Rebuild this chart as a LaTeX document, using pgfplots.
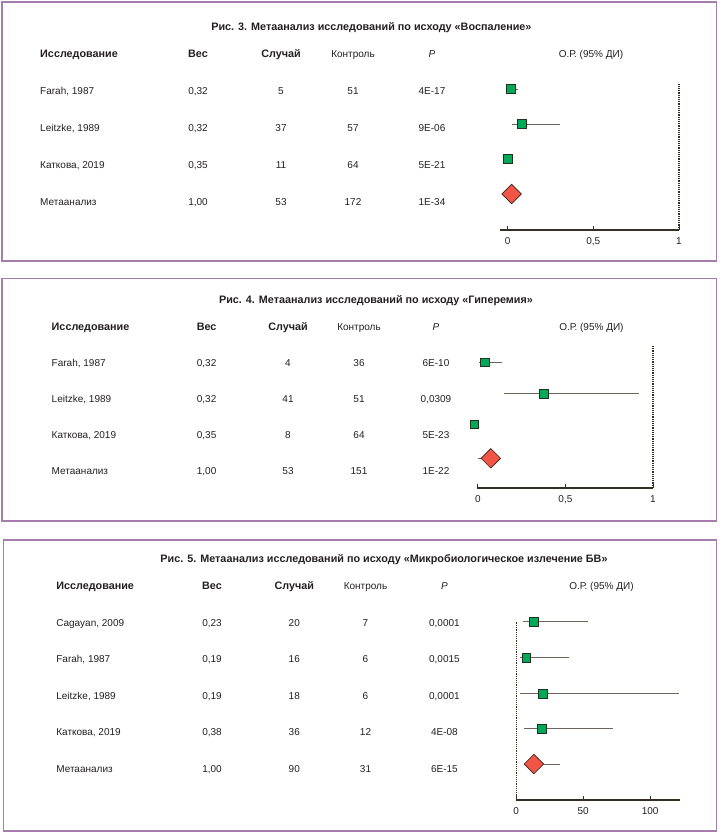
\documentclass[border=0pt]{standalone}
\usepackage{fontspec}
\setmainfont{Liberation Sans}
\usepackage{pgfplots}
\pgfplotsset{compat=1.18}
\definecolor{frame}{RGB}{165,125,172}
\definecolor{txt}{RGB}{35,31,32}
\definecolor{axc}{RGB}{55,45,35}
\definecolor{cic}{RGB}{110,102,92}
\definecolor{sqg}{RGB}{0,168,90}
\definecolor{sqd}{RGB}{30,50,30}
\definecolor{dia}{RGB}{240,85,70}
\definecolor{diad}{RGB}{60,30,25}
\newcommand\fs{\fontsize{10}{12}\selectfont}
\newcommand\fb{\fontsize{10.8}{13}\selectfont\bfseries}
\newcommand\trow[6]{%
  \node[anchor=mid west] at (\ca,#1) {#2};
  \node[anchor=mid] at (\cb,#1) {#3};
  \node[anchor=mid] at (\cc,#1) {#4};
  \node[anchor=mid] at (\cd,#1) {#5};
  \node[anchor=mid] at (\ce,#1) {#6};}
\newcommand\thead[1]{%
  \node[anchor=mid west,font=\fb] at (\ca,#1) {Исследование};
  \node[anchor=mid,font=\fb] at (\cb,#1) {Вес};
  \node[anchor=mid,font=\fb] at (\cc,#1) {Случай};
  \node[anchor=mid] at (\cd,#1) {Контроль};
  \node[anchor=mid,font=\fs\itshape] at (\ce,#1) {P};
  \node[anchor=mid] at (\cf,#1) {О.Р. (95\% ДИ)};}
\pgfplotsset{forest/.style={
  scale only axis, clip=false,
  axis x line*=bottom, axis y line=none,
  ytick=\empty,
  tick align=inside, major tick length=4pt,
  x axis line style={line width=1.5pt, draw=axc},
  xtick style={draw=axc, line width=0.8pt},
  tick label style={font=\fs, text=txt, /pgf/number format/assume math mode=true},
  xticklabel style={yshift=-4pt},
  },
  ci/.style={draw=cic, line width=0.9pt},
  sq/.style={only marks, mark=square*, mark size=4.4pt, mark options={fill=sqg, draw=sqd, line width=0.6pt}},
  dm/.style={only marks, mark=square*, mark size=6.9pt, mark options={rotate=45, fill=dia, draw=diad, line width=0.6pt}},
  nul/.style={draw=axc, densely dotted, line width=1.2pt},
}
\begin{document}
\begin{tikzpicture}
\useasboundingbox (0pt,0pt) rectangle (720pt,-833pt);
\begin{scope}[x=1pt,y=-1pt,font=\fs,text=txt]
\draw[frame, line width=1.4pt] (2,2) rectangle (716.5,261);
\draw[frame, line width=1.4pt] (2,278.3) rectangle (716.5,521);
\draw[frame, line width=1.4pt] (3.3,540) rectangle (716.5,831);
% Panel 1
\node[font=\fb] at (371.4,27.5) {Рис. 3. Метаанализ исследований по исходу «Воспаление»};
\def\ca{36.7}\def\cb{198}\def\cc{281}\def\cd{353}\def\ce{432}\def\cf{591}
\thead{55}
\trow{92}{Farah, 1987}{0,32}{5}{51}{4E-17}
\trow{128.5}{Leitzke, 1989}{0,32}{37}{57}{9E-06}
\trow{165.5}{Каткова, 2019}{0,35}{11}{64}{5E-21}
\trow{202.5}{Метаанализ}{1,00}{53}{172}{1E-34}
% Panel 2
\node[font=\fb] at (376,300.7) {Рис. 4. Метаанализ исследований по исходу «Гиперемия»};
\def\ca{48.2}\def\cb{206.6}\def\cc{288}\def\cd{359}\def\ce{436}\def\cf{591.4}
\thead{327.7}
\trow{364}{Farah, 1987}{0,32}{4}{36}{6E-10}
\trow{400}{Leitzke, 1989}{0,32}{41}{51}{0,0309}
\trow{436}{Каткова, 2019}{0,35}{8}{64}{5E-23}
\trow{472.3}{Метаанализ}{1,00}{53}{151}{1E-22}
% Panel 3
\node[font=\fb] at (384,559.3) {Рис. 5. Метаанализ исследований по исходу «Микробиологическое излечение БВ»};
\def\ca{52.8}\def\cb{212}\def\cc{294.3}\def\cd{365.5}\def\ce{444.4}\def\cf{601.5}
\thead{587.3}
\trow{624}{Cagayan, 2009}{0,23}{20}{7}{0,0001}
\trow{660.3}{Farah, 1987}{0,19}{16}{6}{0,0015}
\trow{697}{Leitzke, 1989}{0,19}{18}{6}{0,0001}
\trow{733.3}{Каткова, 2019}{0,38}{36}{12}{4E-08}
\trow{770}{Метаанализ}{1,00}{90}{31}{6E-15}
\end{scope}

% Forest plot 1
\begin{axis}[forest, at={(500pt,-230pt)}, anchor=south west,
  width=179pt, height=147pt, xmin=-0.045, xmax=1, ymin=-230, ymax=-83,
  xtick={0,0.5,1}, xticklabels={0,{0,5},1}]
\addplot[nul] coordinates {(1,-230) (1,-83)};
\addplot[ci] coordinates {(0.005,-89) (0.058,-89)};
\addplot[ci] coordinates {(0.023,-124) (0.305,-124)};
\addplot[ci] coordinates {(-0.008,-159) (0.033,-159)};
\addplot[sq] coordinates {(0.016,-89) (0.083,-124) (0.0,-159)};
\addplot[dm] coordinates {(0.023,-194)};
\end{axis}

% Forest plot 2
\begin{axis}[forest, at={(476.8pt,-488pt)}, anchor=south west,
  width=176.2pt, height=143pt, xmin=-0.006, xmax=1, ymin=-488, ymax=-345,
  xtick={0,0.5,1}, xticklabels={0,{0,5},1}]
\addplot[nul] coordinates {(1,-488) (1,-345)};
\addplot[ci] coordinates {(0.009,-362.3) (0.14,-362.3)};
\addplot[ci] coordinates {(0.152,-393.7) (0.92,-393.7)};
\addplot[ci] coordinates {(0.0,-458.3) (0.1,-458.3)};
\addplot[sq] coordinates {(0.038,-362.3) (0.375,-393.7) (-0.02,-424.3)};
\addplot[dm] coordinates {(0.074,-458.3)};
\end{axis}

% Forest plot 3
\begin{axis}[forest, at={(516.1pt,-800pt)}, anchor=south west,
  width=164pt, height=182pt, xmin=0, xmax=122.4, ymin=-800, ymax=-618,
  xtick={0,50,100}]
\addplot[nul] coordinates {(0,-800) (0,-621.7)};
\addplot[ci] coordinates {(4.8,-621.7) (53.8,-621.7)};
\addplot[ci] coordinates {(2.6,-657.7) (39.6,-657.7)};
\addplot[ci] coordinates {(2.6,-693.7) (121.4,-693.7)};
\addplot[ci] coordinates {(6.0,-728.7) (72.3,-728.7)};
\addplot[ci] coordinates {(6.0,-764) (32.5,-764)};
\addplot[sq] coordinates {(13.3,-621.7) (7.6,-657.7) (20.0,-693.7) (19.3,-728.7)};
\addplot[dm] coordinates {(13.3,-764)};
\end{axis}
\end{tikzpicture}
\end{document}
